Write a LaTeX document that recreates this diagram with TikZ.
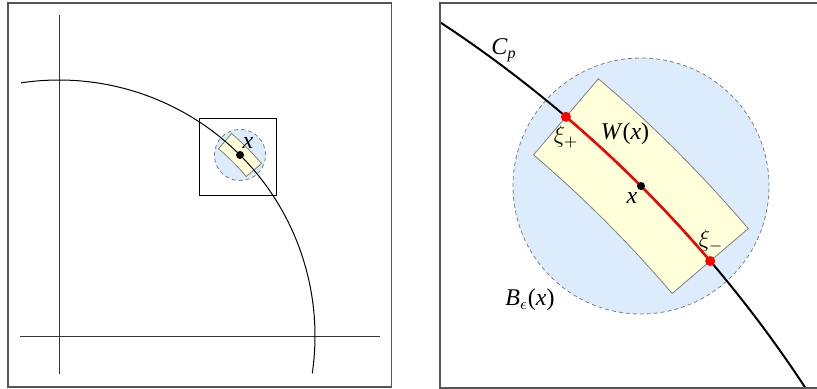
\documentclass[tikz,border=0pt]{standalone}
\usepackage{fontspec}
\setmainfont{Liberation Serif}
\definecolor{ballblue}{RGB}{220,236,252}
\definecolor{wyellow}{RGB}{255,255,218}
\definecolor{framegray}{RGB}{85,85,85}
\tikzset{
  frame/.style={draw=framegray, line width=0.7pt},
  axis/.style={draw=black!80, line width=0.5pt},
  ball/.style={fill=ballblue, draw=gray, dash pattern=on 2pt off 1.5pt, line width=0.4pt},
  wbox/.style={fill=wyellow, draw=gray, line width=0.4pt},
  lbl/.style={font=\fontsize{12}{14}\selectfont, inner sep=0pt},
  bdot/.style={circle, fill=black, inner sep=0pt, minimum size=4pt},
  rdot/.style={circle, fill=red, inner sep=0pt, minimum size=5pt}
}
\begin{document}
\begin{tikzpicture}[x=0.5pt,y=0.5pt]
\useasboundingbox (0,0) rectangle (817,388);
\clip (0,0) rectangle (817,388);
% ---------- left panel ----------
\draw[frame] (8,1) rectangle (391.5,385);
\draw[axis] (59,14) -- (59,373);
\draw[axis] (20,52) -- (380,52);
\draw[black, line width=0.5pt] (199.8,192.6) rectangle (276.8,269.6);
\begin{scope}[shift={(59,52)}]
  \path[ball] (45:256) circle[radius=25.6];
  \path[wbox] (49.57:266) arc[start angle=49.57, end angle=40.43, radius=266]
     -- (40.43:246) arc[start angle=40.43, end angle=49.57, radius=246] -- cycle;
  \draw[line width=0.5pt] (98.5:256) arc[start angle=98.5, end angle=-8.4, radius=256];
  \node[bdot] (lp) at (45:256) {};
\end{scope}
\node[lbl] (lx) at (248,245) {\textit{x}};
% ---------- right panel ----------
\begin{scope}
  \clip (440,0) rectangle (825,385);
  \begin{scope}[shift={(-264.1,-703.1)}]
    \path[ball] (45:1280) circle[radius=128];
    \path[wbox] (49.57:1330) arc[start angle=49.57, end angle=40.43, radius=1330]
       -- (40.43:1230) arc[start angle=40.43, end angle=49.57, radius=1230] -- cycle;
    \draw[line width=1pt] (62:1280) arc[start angle=62, end angle=28, radius=1280];
    \draw[red, line width=1.2pt] (49.57:1280) arc[start angle=49.57, end angle=40.43, radius=1280];
    \node[rdot] (xip) at (49.57:1280) {};
    \node[rdot] (xim) at (40.43:1280) {};
    \node[bdot] (rp) at (45:1280) {};
  \end{scope}
\end{scope}
\draw[frame] (440,0) rectangle (825,385);
\node[lbl] (cp) at (504,338) {\textit{C}\textsubscript{\textit{p}}};
\node[lbl] (xiplbl) at (566,251) {$\xi_{+}$};
\node[lbl] (wx) at (625,254) {\textit{W}(\textit{x})};
\node[lbl] (rx) at (632,190) {\textit{x}};
\node[lbl] (ximlbl) at (711,147) {$\xi_{-}$};
\node[lbl] (bx) at (530,88) {\textit{B}$_{\epsilon}$(\textit{x})};
\end{tikzpicture}
\end{document}
